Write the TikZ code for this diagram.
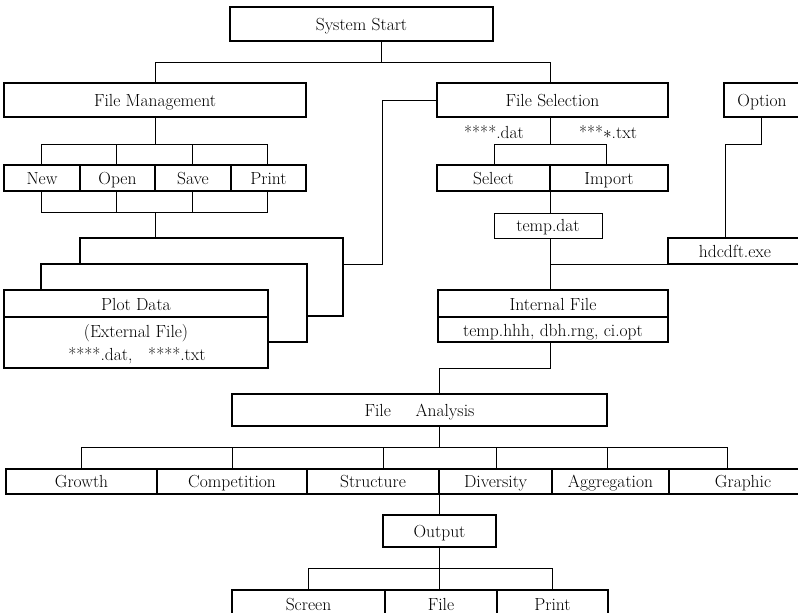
\documentclass[tikz,border=0pt]{standalone}
\begin{document}
\begin{tikzpicture}[x=1pt,y=-1pt,
  bx/.style={draw,line width=1.4pt,rectangle,inner sep=0pt,outer sep=0pt,text height=12pt,text depth=0pt,font=\fontsize{17.5}{19}\selectfont},
  thinbx/.style={bx,line width=0.8pt},
  conn/.style={line width=0.7pt},
  lay/.style={line width=1.4pt},
  lbl/.style={inner sep=0pt,text height=12pt,text depth=0pt,font=\fontsize{17.5}{19}\selectfont}]
\newcommand{\bnode}[7][]{\node[bx,#1,minimum width={(#5-#3)*1pt},minimum height={(#6-#4)*1pt}] (#2) at ({(#3+#5)/2},{(#4+#6)/2}) {#7};}
\useasboundingbox (0,0) rectangle (798,613);
\fill[white] (0,0) rectangle (798,613);
\clip (0,0) rectangle (798,613);
% boxes
\bnode{sys}{230}{7}{493}{41}{System Start}
\bnode{fm}{4}{83}{306}{117}{File Management}
\bnode{fs}{437}{83}{668}{117}{File Selection}
\bnode{opt}{724}{83}{800}{117}{Option}
\bnode{new}{4}{165}{80}{191}{New}
\bnode{open}{80}{165}{155}{191}{Open}
\bnode{save}{155}{165}{231}{191}{Save}
\bnode{print}{231}{165}{306}{191}{Print}
\bnode{sel}{437}{165}{550}{191}{Select}
\bnode{imp}{550}{165}{668}{191}{Import}
\bnode[thinbx]{temp}{494}{213}{602}{238}{temp.dat}
\bnode{hdc}{668}{238}{802}{264}{hdcdft.exe}
\bnode{plot}{4}{290}{268}{368}{}
\bnode{intf}{438}{290}{668}{342}{}
\bnode{fa}{232}{394}{607}{426}{File\hspace{1.1em} Analysis}
\bnode{gro}{6}{469}{157}{494}{Growth}
\bnode{com}{157}{469}{307}{494}{Competition}
\bnode{str}{307}{469}{439}{494}{Structure}
\bnode{div}{439}{469}{552}{494}{Diversity}
\bnode{agg}{552}{469}{669}{494}{Aggregation}
\bnode{gra}{669}{469}{817}{494}{Graphic}
\bnode{out}{383}{515}{496}{547}{Output}
\bnode{scr}{232}{590}{385}{618}{Screen}
\bnode{fil}{385}{590}{497}{618}{File}
\bnode{prn}{497}{590}{608}{618}{Print}
% inner texts and dividers
\draw[lay] (plot.west |- 0,317) -- (plot.east |- 0,317);
\node[lbl] (pd1) at (136,304.5) {Plot Data};
\node[lbl] (pd2) at (136,331) {(External File)};
\node[lbl] (pd3) at (137,354) {****.dat,\hspace{0.6em} ****.txt};
\draw[lay] (intf.west |- 0,317) -- (intf.east |- 0,317);
\node[lbl] (if1) at (553,304) {Internal File};
\node[lbl] (if2) at (553,330) {temp.hhh, dbh.rng, ci.opt};
\node[lbl] (dat) at (494,132) {****.dat};
\node[lbl] (txt) at (608,132) {***$\ast$.txt};
% stacked layers behind Plot Data
\coordinate (l1a) at (80,264);
\coordinate (l2a) at (41,290);
\draw[lay] (l1a) -- (80,238) -- (343,238) -- (343,316) -- (307,316);
\draw[lay] (l2a) -- (41,264) -- (307,264) -- (307,342) -- (plot.east |- 0,342);
% connectors
\draw[conn] (sys.south -| 381,0) -- (381,62);
\draw[conn] (fm.north) -- (155,62) -- (550,62) -- (fs.north -| 550,0);
\draw[conn] (fm.south) -- (155,144);
\draw[conn] (new.north -| 41,0) -- (41,144) -- (267,144) -- (print.north -| 267,0);
\draw[conn] (open.north -| 116,0) -- (116,144);
\draw[conn] (save.north -| 192,0) -- (192,144);
\draw[conn] (new.south -| 41,0) -- (41,212) -- (267,212) -- (print.south -| 267,0);
\draw[conn] (open.south -| 116,0) -- (116,212);
\draw[conn] (save.south -| 192,0) -- (192,212);
\coordinate (pj) at (155,212);
\draw[conn] (pj) -- (155,238);
\draw[conn] (343,264) -- (382,264) -- (382,100) -- (fs.west);
\draw[conn] (fs.south -| 550,0) -- (550,144);
\draw[conn] (sel.north -| 494,0) -- (494,144) -- (606,144) -- (imp.north -| 606,0);
\draw[conn] (sel.south east) -- (temp.north -| 550,0);
\draw[conn] (temp.south -| 550,0) -- (intf.north -| 550,0);
\draw[conn] (550,264) -- (hdc.south west);
\draw[conn] (opt.south -| 761,0) -- (761,144) -- (725,144) -- (hdc.north -| 725,0);
\draw[conn] (intf.south -| 550,0) -- (550,368) -- (439,368) -- (fa.north -| 439,0);
\draw[conn] (fa.south -| 439,0) -- (439,447);
\draw[conn] (gro.north -| 81,0) -- (81,447) -- (727,447) -- (gra.north -| 727,0);
\draw[conn] (com.north) -- (232,447);
\draw[conn] (str.north -| 383,0) -- (383,447);
\draw[conn] (div.north -| 496,0) -- (496,447);
\draw[conn] (agg.north -| 607,0) -- (607,447);
\draw[conn] (div.south west) -- (out.north -| 439,0);
\draw[conn] (out.south -| 439,0) -- (439,568);
\draw[conn] (scr.north -| 308,0) -- (308,568) -- (552,568) -- (prn.north -| 552,0);
\draw[conn] (fil.north -| 439,0) -- (439,568);
\end{tikzpicture}
\end{document}
